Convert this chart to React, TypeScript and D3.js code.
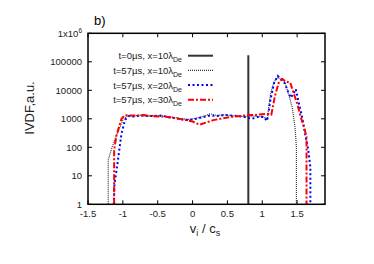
import React from 'react';
import * as d3 from 'd3';

const W = 374;
const H = 264;

// v_i / c_s grid and IVDF values (a.u.)
const vBlack = [-1.21, -1.21, -1.16, -1.09, -1.0, -0.93, -0.85, -0.75, -0.65, -0.55, -0.45, -0.35, -0.25, -0.15, -0.05, 0.05, 0.15, 0.25, 0.35, 0.45, 0.55, 0.65, 0.75, 0.85, 0.95, 1.03, 1.07, 1.12, 1.17, 1.22, 1.27, 1.33, 1.38, 1.43, 1.47, 1.49, 1.49];
const fBlack = [1, 36, 92, 270, 900, 1300, 1250, 1350, 1250, 1300, 1250, 1200, 1100, 1000, 950, 1050, 1200, 1500, 1300, 1400, 1300, 1250, 1200, 1250, 1200, 1150, 900, 8000, 20000, 27000, 26000, 18000, 7000, 2500, 500, 100, 1];

const vBlue = [-1.13, -1.12, -1.07, -1.02, -0.97, -0.92, -0.85, -0.75, -0.65, -0.55, -0.45, -0.35, -0.25, -0.15, -0.05, 0.05, 0.15, 0.25, 0.35, 0.45, 0.55, 0.65, 0.75, 0.85, 0.95, 1.02, 1.07, 1.12, 1.17, 1.22, 1.27, 1.32, 1.37, 1.41, 1.45, 1.48, 1.52, 1.57, 1.62, 1.66, 1.69, 1.69];
const fBlue = [1, 5, 36, 300, 900, 1250, 1200, 1300, 1250, 1250, 1300, 1150, 1050, 950, 900, 1000, 1150, 1300, 1250, 1350, 1300, 1250, 1150, 1000, 1200, 1150, 850, 5000, 18000, 32000, 25000, 18000, 9000, 5500, 8000, 11000, 4000, 1200, 250, 80, 20, 1];

const vRed = [-1.125, -1.125, -1.09, -1.02, -0.97, -0.9, -0.8, -0.7, -0.6, -0.5, -0.4, -0.3, -0.2, -0.1, 0, 0.1, 0.2, 0.3, 0.4, 0.5, 0.6, 0.7, 0.8, 0.9, 1.0, 1.07, 1.13, 1.18, 1.24, 1.29, 1.34, 1.4, 1.45, 1.5, 1.55, 1.6, 1.635, 1.635];
const fRed = [1, 80, 270, 1000, 1350, 1300, 1300, 1350, 1250, 1200, 1200, 1100, 1000, 900, 800, 620, 750, 900, 1000, 1100, 1200, 1250, 1350, 1350, 1450, 1500, 1400, 6000, 20000, 25000, 20000, 19000, 8000, 3500, 1200, 500, 230, 1];

// t=0 distribution: a single beam at v = 0.8
const vInit = [0.8, 0.8];
const fInit = [1, 170000];

const xTicks = [-1.5, -1, -0.5, 0, 0.5, 1, 1.5];
const yTicks = [1, 10, 100, 1000, 10000, 100000, 1000000];
const yTickLabels = ['1', '10', '100', '1000', '10000', '100000', ''];

const legendLabels = ['t=0\u00b5s, x=10\u03bb', 't=57\u00b5s, x=10\u03bb', 't=57\u00b5s, x=20\u03bb', 't=57\u00b5s, x=30\u03bb'];

const series = [
  { v: vInit, f: fInit, color: '#333333', width: 2, dash: undefined },
  { v: vBlack, f: fBlack, color: '#333333', width: 1.2, dash: '1,1' },
  { v: vBlue, f: fBlue, color: '#0000ff', width: 2, dash: '2,2.5' },
  { v: vRed, f: fRed, color: '#ff0000', width: 2, dash: '6,2,2,2' },
];

const left = 88, right = 325, top = 33.3, bottom = 204.3;

export default function App() {
  const x = d3.scaleLinear().domain([-1.5, 1.9]).range([left, right]);
  const y = d3.scaleLog().domain([1, 1e6]).range([bottom, top]);
  const font = '"Liberation Sans", Arial, sans-serif';

  const lineGen = (v: number[], f: number[]) =>
    d3.line<number>().x((_, i) => x(v[i])).y((d) => y(d))(f) || '';

  const legendY = [55.7, 70.3, 85, 99.7];

  return (
    <svg width={W} height={H} style={{ position: 'absolute', left: 0, top: 0, background: '#fff' }} fontFamily={font}>
      <defs>
        <clipPath id="plotclip">
          <rect x={left} y={top} width={right - left} height={bottom - top} />
        </clipPath>
      </defs>
      <text x={94} y={25} fontSize={13}>b)</text>

      {/* lines */}
      <g clipPath="url(#plotclip)">
        {series.map((s, i) => (
          <path key={i} d={lineGen(s.v, s.f)} fill="none" stroke={s.color}
            strokeWidth={s.width} strokeDasharray={s.dash} />
        ))}
      </g>

      {/* ticks */}
      {xTicks.map((t) => (
        <g key={'x' + t}>
          <line x1={x(t)} x2={x(t)} y1={bottom} y2={bottom - 4} stroke="#000" />
          <line x1={x(t)} x2={x(t)} y1={top} y2={top + 4} stroke="#000" />
          <text x={x(t)} y={217} fontSize={9.5} textAnchor="middle" fill="#222">{t}</text>
        </g>
      ))}
      {yTicks.map((t, i) => (
        <g key={'y' + t}>
          <line x1={left} x2={left + 4} y1={y(t)} y2={y(t)} stroke="#000" />
          <line x1={right} x2={right - 4} y1={y(t)} y2={y(t)} stroke="#000" />
          {yTickLabels[i] && (
            <text x={82} y={y(t) + 3.5} fontSize={9.5} textAnchor="end" fill="#222">{yTickLabels[i]}</text>
          )}
        </g>
      ))}
      <text x={82} y={y(1e6) + 3.5} fontSize={9.5} textAnchor="end" fill="#222">
        1x10<tspan dy={-4} fontSize={6.5}>6</tspan>
      </text>

      <rect x={left} y={top} width={right - left} height={bottom - top} fill="none" stroke="#000" strokeWidth={1.5} />

      {/* legend */}
      {legendLabels.map((l, i) => (
        <g key={l}>
          <text x={182} y={legendY[i] + 3.5} fontSize={9.5} textAnchor="end" fill="#222">
            {l}<tspan dy={3} fontSize={7}>De</tspan>
          </text>
          <line x1={188} x2={213} y1={legendY[i]} y2={legendY[i]} stroke={series[i].color}
            strokeWidth={series[i].width} strokeDasharray={series[i].dash} />
        </g>
      ))}

      {/* axis labels */}
      <text transform="translate(34,108) rotate(-90)" fontSize={13} textAnchor="middle" fill="#222">IVDF,a.u.</text>
      <text x={205} y={233} fontSize={13} textAnchor="middle" fill="#222">
        v<tspan dy={3} fontSize={9}>i</tspan><tspan dy={-3}> / c</tspan><tspan dy={3} fontSize={9}>s</tspan>
      </text>
    </svg>
  );
}
